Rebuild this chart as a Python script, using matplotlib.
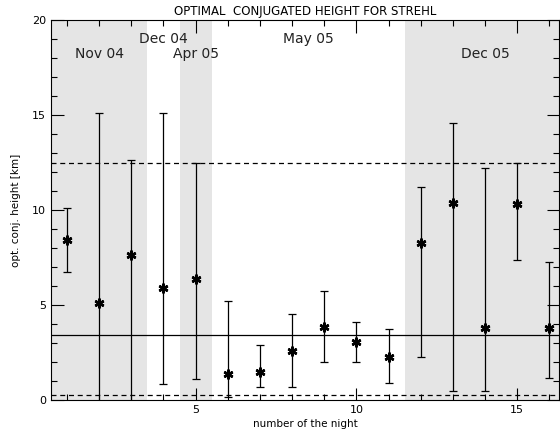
import numpy as np
import matplotlib
matplotlib.use('Agg')
import matplotlib.pyplot as plt
from matplotlib.ticker import MultipleLocator

# night number, optimal conjugated height and error bar ends [km]
nights = np.arange(1, 17)
height = [8.45, 5.09, 7.63, 5.91, 6.35, 1.35, 1.49, 2.60,
          3.86, 3.04, 2.28, 8.25, 10.35, 3.81, 10.30, 3.80]
upper = [10.1, 15.12, 12.63, 15.09, 12.49, 5.23, 2.89, 4.53,
         5.74, 4.09, 3.74, 11.23, 14.58, 12.23, 12.46, 7.28]
lower = [6.75, -1.0, -1.0, 0.84, 1.09, 0.14, 0.70, 0.70,
         1.98, 1.98, 0.88, 2.25, 0.49, 0.49, 7.35, 1.14]

# observing runs: shaded spans and labels
runs = ['Nov 04', 'Dec 04', 'Apr 05', 'May 05', 'Dec 05']
run_x = [2.0, 4.0, 5.0, 8.5, 14.0]
run_y = [18.2, 19.0, 18.2, 19.0, 18.2]
shade_spans = [(0.5, 3.5), (4.5, 5.5), (11.5, 16.3)]

mean_h = 3.4
limits = [12.5, 0.25]

fig = plt.figure(figsize=(5.6, 4.38), dpi=100)
ax = fig.add_axes([0.091, 0.0868, 0.907, 0.867])

for a, b in shade_spans:
    ax.axvspan(a, b, color='#e5e5e5', lw=0, zorder=0)

h = np.array(height)
yerr = [h - np.array(lower), np.array(upper) - h]
ax.errorbar(nights, height, yerr=yerr, fmt='none', ecolor='black',
            elinewidth=0.9, capsize=3, capthick=0.9, zorder=3)
ax.plot(nights, height, ls='none', marker=(6, 2, 0), ms=7, mew=1.8,
        color='black', zorder=4)

ax.axhline(mean_h, color='black', lw=0.9, zorder=2)
for v in limits:
    ax.axhline(v, color='black', lw=0.9, ls=(0, (4, 3)), zorder=2)

for t, x, y in zip(runs, run_x, run_y):
    ax.text(x, y, t, ha='center', va='center', fontsize=10, color='#222222')

ax.set_xlim(0.5, 16.3)
ax.set_ylim(0, 20)
ax.xaxis.set_major_locator(MultipleLocator(5))
ax.xaxis.set_minor_locator(MultipleLocator(1))
ax.yaxis.set_major_locator(MultipleLocator(5))
ax.yaxis.set_minor_locator(MultipleLocator(1))
ax.tick_params(which='both', direction='in', top=True, right=True,
               labelsize=8, width=0.8)
ax.tick_params(which='major', length=9)
ax.tick_params(which='minor', length=4)
for s in ax.spines.values():
    s.set_linewidth(0.8)

ax.set_title('OPTIMAL  CONJUGATED HEIGHT FOR STREHL', fontsize=8.5, pad=4)
ax.set_xlabel('number of the night', fontsize=7.5, labelpad=3)
ax.set_ylabel('opt. conj. height [km]', fontsize=7.5, labelpad=8)

fig.savefig('out.png', dpi=100)
